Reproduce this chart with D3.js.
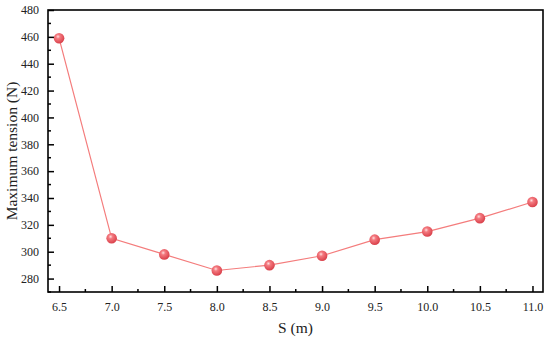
<!DOCTYPE html>
<html><head><meta charset="utf-8">
<script src="https://cdn.jsdelivr.net/npm/d3@7"></script>
<style>body{margin:0;background:#fff}svg{display:block}</style>
</head><body>
<script>
const sValues = [6.5, 7.0, 7.5, 8.0, 8.5, 9.0, 9.5, 10.0, 10.5, 11.0];
const tension = [459, 310, 298, 286, 290, 297, 309, 315, 325, 337];
const xTicks = [6.5, 7.0, 7.5, 8.0, 8.5, 9.0, 9.5, 10.0, 10.5, 11.0];
const yTicks = [280, 300, 320, 340, 360, 380, 400, 420, 440, 460, 480];

const W = 550, H = 342;
const m = {l: 48, t: 10, r: 543, b: 292};
const svg = d3.select("body").append("svg").attr("width", W).attr("height", H);
const x = d3.scaleLinear().domain([6.395, 11.1]).range([m.l, m.r]);
const y = d3.scaleLinear().domain([270, 480]).range([m.b, m.t]);

const defs = svg.append("defs");
const g = defs.append("radialGradient").attr("id", "ball").attr("cx", "40%").attr("cy", "35%").attr("r", "65%");
g.append("stop").attr("offset", "0%").attr("stop-color", "#ffe0e0");
g.append("stop").attr("offset", "30%").attr("stop-color", "#f47a80");
g.append("stop").attr("offset", "100%").attr("stop-color", "#d9404a");

const fontStyle = "font-family: 'Liberation Serif', 'Times New Roman', Times, 'DejaVu Serif', serif";

const xMinor = d3.range(6.5, 11.01, 0.25);
const yMinor = d3.range(270, 480.1, 10);

const xAxis = d3.axisBottom(x).tickValues(xTicks).tickFormat(d3.format(".1f")).tickSizeInner(-6).tickSizeOuter(0).tickPadding(10);
const gx = svg.append("g").attr("transform", `translate(0,${m.b})`).call(xAxis);
gx.selectAll("text").attr("style", fontStyle).attr("font-size", 12).attr("fill", "#222");
gx.selectAll(".tick line").attr("stroke", "#000").attr("stroke-width", 1.5);
gx.select(".domain").remove();
svg.append("g").selectAll("line").data(xMinor.filter(v => !xTicks.some(t => Math.abs(t - v) < 1e-6)))
  .join("line").attr("x1", d => x(d)).attr("x2", d => x(d)).attr("y1", m.b).attr("y2", m.b - 3)
  .attr("stroke", "#000").attr("stroke-width", 1.5);

const yAxis = d3.axisLeft(y).tickValues(yTicks).tickSizeInner(-6).tickSizeOuter(0).tickPadding(9);
const gy = svg.append("g").attr("transform", `translate(${m.l},0)`).call(yAxis);
gy.selectAll("text").attr("style", fontStyle).attr("font-size", 12).attr("fill", "#222");
gy.selectAll(".tick line").attr("stroke", "#000").attr("stroke-width", 1.5);
gy.select(".domain").remove();
svg.append("g").selectAll("line").data(yMinor.filter(v => !yTicks.includes(v)))
  .join("line").attr("x1", m.l).attr("x2", m.l + 3).attr("y1", d => y(d)).attr("y2", d => y(d))
  .attr("stroke", "#000").attr("stroke-width", 1.5);

svg.append("rect").attr("x", m.l).attr("y", m.t).attr("width", m.r - m.l).attr("height", m.b - m.t)
  .attr("fill", "none").attr("stroke", "#000").attr("stroke-width", 1.6);

const data = sValues.map((s, i) => ({s, v: tension[i]}));
svg.append("path").datum(data)
  .attr("d", d3.line().x(d => x(d.s)).y(d => y(d.v)))
  .attr("fill", "none").attr("stroke", "#f47c7c").attr("stroke-width", 1.2);

svg.append("g").selectAll("circle").data(data).join("circle")
  .attr("cx", d => x(d.s)).attr("cy", d => y(d.v)).attr("r", 5.3)
  .attr("fill", "url(#ball)");

svg.append("text").attr("x", (m.l + m.r) / 2).attr("y", 333).attr("text-anchor", "middle")
  .attr("style", fontStyle).attr("font-size", 15.5).attr("fill", "#222").text("S (m)");
svg.append("text").attr("transform", `translate(17,${(m.t + m.b) / 2}) rotate(-90)`).attr("text-anchor", "middle")
  .attr("style", fontStyle).attr("font-size", 15.5).attr("fill", "#222").text("Maximum tension (N)");
</script>
</body></html>
